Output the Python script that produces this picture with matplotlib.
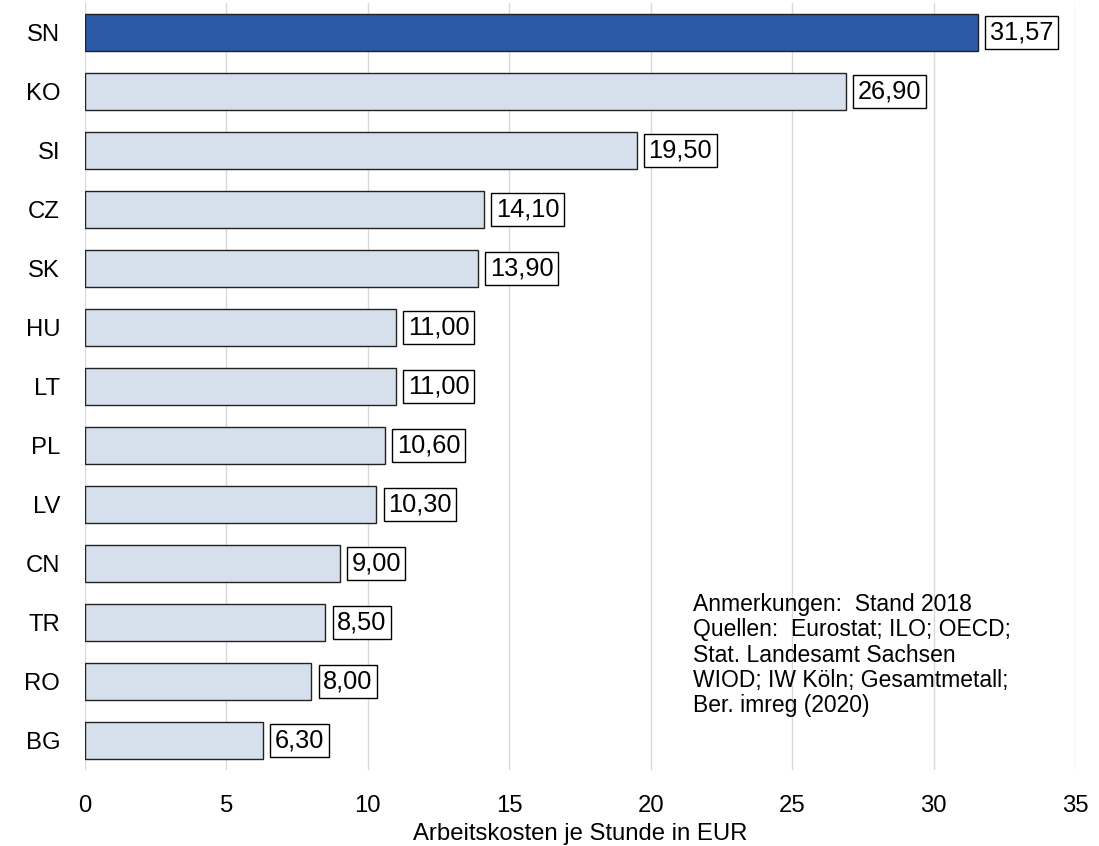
import matplotlib
matplotlib.use("Agg")
from matplotlib import pyplot as plt

plt.rcParams['font.family'] = ['Liberation Sans', 'DejaVu Sans']

# Arbeitskosten je Stunde (EUR), Stand 2018
laender = ['SN', 'KO', 'SI', 'CZ', 'SK', 'HU', 'LT', 'PL', 'LV', 'CN', 'TR', 'RO', 'BG']
kosten = [31.57, 26.90, 19.50, 14.10, 13.90, 11.00, 11.00, 10.60, 10.30, 9.00, 8.50, 8.00, 6.30]
xticks = [0, 5, 10, 15, 20, 25, 30, 35]

hell = '#D6DFEC'
dunkel = '#2A5AA5'
fs = 17.2

fig = plt.figure(figsize=(10.99, 8.46), dpi=100)
ax = fig.add_axes([85 / 1099, 1 - 770 / 846, 990 / 1099, 767 / 846])

pos = list(range(len(laender)))
farben = [dunkel if l == 'SN' else hell for l in laender]
ax.barh(pos, kosten, height=0.63, color=farben, edgecolor='#222222', linewidth=1.0, zorder=3)

for p, v in zip(pos, kosten):
    txt = f'{v:.2f}'.replace('.', ',')
    ax.annotate(txt, (v, p), xytext=(8.5, 0), textcoords='offset points',
                ha='left', va='center', fontsize=18.3, zorder=4,
                bbox=dict(boxstyle='square,pad=0.18', fc='white', ec='black', lw=1.0))

ax.set_xlim(0, 35)
ax.set_ylim(len(laender) - 0.5, -0.5)
ax.set_yticks(pos)
ax.set_yticklabels(laender)
ax.set_xticks(xticks)
ax.tick_params(axis='both', length=0, labelsize=fs)
ax.tick_params(axis='x', pad=18)
ax.tick_params(axis='y', pad=18)
ax.grid(axis='x', color='#D9D9D9', linewidth=1.0, zorder=0)
for s in ax.spines.values():
    s.set_visible(False)

ax.set_xlabel('Arbeitskosten je Stunde in EUR', fontsize=fs, labelpad=4)

hinweis = ('Anmerkungen:  Stand 2018\n'
           'Quellen:  Eurostat; ILO; OECD;\n'
           'Stat. Landesamt Sachsen\n'
           'WIOD; IW Köln; Gesamtmetall;\n'
           'Ber. imreg (2020)')
fig.text(693 / 1099, 1 - 593 / 846, hinweis, ha='left', va='top', fontsize=16.5, linespacing=1.13)

fig.savefig('out.png', dpi=100)
